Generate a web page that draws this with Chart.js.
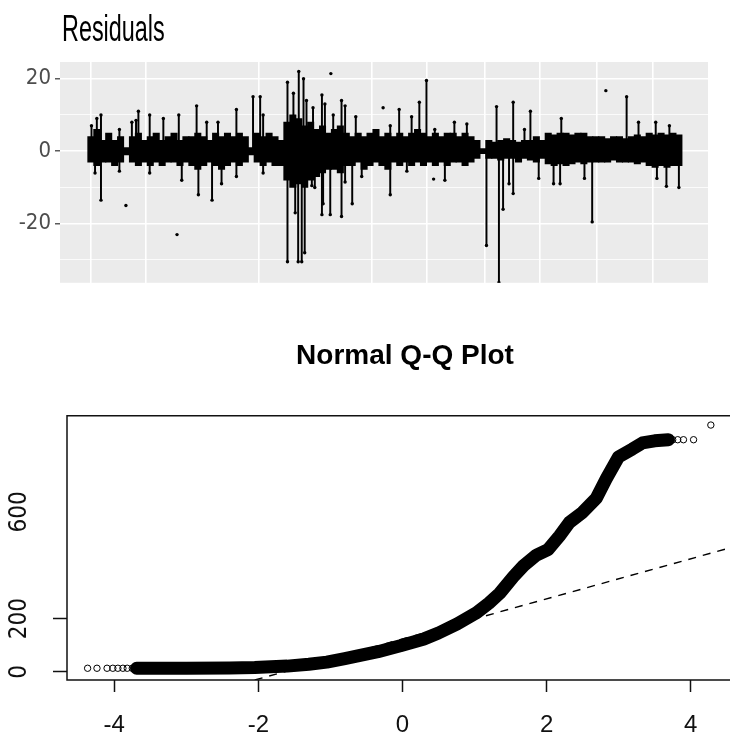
<!DOCTYPE html>
<html lang="en">
<head>
<meta charset="UTF-8">
<title>Residuals and Normal Q-Q Plot</title>
<script src="https://cdn.jsdelivr.net/npm/chart.js"></script>
<style>
  body { margin: 0; background: #fff; width: 733px; height: 738px; position: relative; overflow: hidden; }
  #resChart { position: absolute; left: 0; top: 0; }
  #qqChart { position: absolute; left: 0; top: 300px; }
  .title { position: absolute; white-space: nowrap; color: #000; }
  #resTitle { left: 62px; top: 11px; font: 36px/36px "Liberation Sans", Arial, sans-serif; transform: scaleX(0.65); transform-origin: left top; }
  #qqTitle { left: 405px; top: 341px; font: bold 28px/28px "Liberation Sans", Arial, sans-serif; transform: translateX(-50%); }
</style>
</head>
<body>
<canvas id="resChart" width="733" height="300"></canvas>
<canvas id="qqChart" width="733" height="438"></canvas>
<div class="title" id="resTitle">Residuals</div>
<div class="title" id="qqTitle">Normal Q-Q Plot</div>
<script>
// ---- residuals (top panel) ----
// min / max of the residuals in bins of 10 observations
const binWidth = 10;
const bandHi = [4, 6, 3, 5, 3, 4, 1, 4, 5, 3, 4, 5, 3, 4, 5, 3, 4, 4, 5, 4,
  3, 5, 4, 5, 4, 5, 4, 1, 5, 4, 5, 4, 3, 8, 10, 9, 7, 8, 6, 7,
  5, 6, 7, 5, 4, 5, 4, 5, 6, 4, 5, 4, 5, 4, 5, 6, 5, 4, 5, 4,
  5, 5, 4, 5, 4, 3, 0.7, 3, 2.5, 3, 3.5, 3, 2.5, 3, 3, 4, 3, 5, 4.5, 5,
  5, 4.5, 5, 5, 4, 4, 4, 3.5, 4, 4, 3.5, 4, 4.5, 4, 5, 4.5, 5, 4.5, 5, 4.5];
const bandLo = [-3, -4, -3, -3, -4, -3, -1, -3, -4, -3, -4, -3, -4, -3, -3, -4, -3, -4, -5, -4,
  -3, -4, -5, -4, -3, -4, -3, -1, -3, -4, -3, -4, -4, -8, -10, -9, -10, -8, -7, -6,
  -5, -5, -6, -4, -4, -3, -5, -4, -3, -4, -5, -3, -4, -3, -4, -3, -4, -3, -4, -3,
  -4, -3, -3, -4, -3, -2, -0.7, -2, -2, -2.5, -2, -2, -3, -2, -2.5, -3, -2, -3.5, -4, -3.5,
  -4, -3.5, -3, -3.5, -3, -3, -3, -3, -2.5, -3, -3, -3, -3.5, -3, -4, -4.5, -4, -4.5, -4, -4];
// single large residuals (observation, value)
const spikeT = [6, 15, 22, 22, 12, 53, 53, 74, 81, 85, 104, 104, 127, 153, 158, 183, 186, 200, 209, 219,
  225, 250, 250, 278, 290, 295, 295, 336, 336, 346, 349, 354, 355, 360, 363, 365, 368, 377, 379, 382,
  394, 394, 396, 399, 408, 413, 427, 427, 433, 433, 445, 451, 461, 509, 509, 524, 537, 545, 558, 570,
  584, 601, 617, 638, 671, 688, 692, 699, 709, 716, 716, 735, 745, 759, 784, 795, 797, 836, 849, 907,
  927, 956, 958, 974, 979, 995];
const spikeV = [7, 9, 10, -13.5, -6, 6, -5.5, 8, 8.5, 11, 10, -6, 9, 10, -8, 12.5, -12, 8, -13.5, 8,
  -9, 11.5, -7, 15, 15, 10, -6, 19, -30.5, 16, -17, -30.5, 22, -30.5, 20, -28, 14, -9.5, 12, -10,
  15.5, -17.5, -14.5, 13, -17.5, 10, 14, -18, 12.5, -8.5, -14.5, 9.5, -7, 7, -12, 11.5, -5.5, 9.5, 13.5, 19.5,
  6, -8, 8, 7.5, -26, 12.3, -36.2, -16, -9, 13.5, -11.7, 6, 11, -7.5, -9, -9, 9, -7.5, -19.5, 15,
  8, 8, -7.5, -9.7, 7, -10];
// isolated points
const dotT = [64, 150, 409, 497, 582, 872];
const dotV = [-15, -23, 21.4, 12, -7.7, 16.7];
const resGridX = [5, 98, 288, 478, 571, 668, 761, 857, 951];
const resYTicks = [-30, -20, -10, 0, 10, 20];
const resYLabels = [-20, 0, 20];

// ---- normal Q-Q plot (bottom panel) ----
// dense part of the curve
const qqX = [-3.69, -3.0, -2.4, -2.05, -1.9, -1.6, -1.3, -1.05, -0.8, -0.62, -0.34, -0.03, 0.3, 0.5, 0.76, 1.03,
  1.2, 1.35, 1.54, 1.68, 1.86, 2.02, 2.18, 2.32, 2.5, 2.69, 2.83, 3.0, 3.19, 3.33, 3.5, 3.69];
const qqY = [14, 14, 15, 17, 19, 22, 29, 37, 50, 60, 76, 98, 124, 146, 180, 222,
  258, 295, 357, 398, 438, 458, 510, 561, 598, 651, 725, 806, 835, 858, 866, 870];
// sparse points in the tails
const tailX = [-4.37, -4.24, -4.10, -4.02, -3.95, -3.88, -3.82, -3.75, 3.75, 3.82, 3.9, 4.04, 4.28];
const tailY = [14, 14, 14, 14, 14, 14, 14, 14, 870, 870, 870, 870, 925];
// reference line (qqline)
const qqLineX = [-2.05, 4.6];
const qqLineY = [-30, 469];
const qqXTicks = [-4, -2, 0, 2, 4];
const qqYTicks = [0, 200, 600];

const narrow = "'Liberation Sans Narrow', 'DejaVu Sans Condensed', 'Liberation Sans', sans-serif";

const panelBg = {
  id: 'panelBg',
  beforeDraw(chart) {
    const a = chart.chartArea, c = chart.ctx;
    c.save();
    c.fillStyle = '#EBEBEB';
    c.fillRect(a.left, a.top, a.right - a.left, a.bottom - a.top);
    c.restore();
  }
};

const isMajor = v => resYLabels.includes(v);

new Chart(document.getElementById('resChart'), {
  type: 'bar',
  data: {
    datasets: [
      {
        data: bandHi.map((h, i) => ({ x: binWidth * i + binWidth / 2, y: [bandLo[i], h] })),
        backgroundColor: '#000',
        barThickness: 6.4,
        grouped: false
      },
      {
        data: spikeT.map((t, i) => ({ x: t, y: [0, spikeV[i]] })),
        backgroundColor: '#000',
        barThickness: 1.3,
        grouped: false
      },
      {
        type: 'scatter',
        data: spikeT.map((t, i) => ({ x: t, y: spikeV[i] }))
          .concat(dotT.map((t, i) => ({ x: t, y: dotV[i] }))),
        pointRadius: 1.7,
        pointBackgroundColor: '#000',
        pointBorderWidth: 0
      }
    ]
  },
  options: {
    responsive: false,
    animation: false,
    layout: { padding: { top: 62, right: 25, bottom: 8, left: 0 } },
    plugins: { legend: { display: false }, tooltip: { enabled: false } },
    scales: {
      x: {
        type: 'linear',
        min: -47,
        max: 1044,
        offset: false,
        afterBuildTicks: s => { s.ticks = resGridX.map(v => ({ value: v })); },
        afterFit: s => { s.height = 0; },
        border: { display: false },
        grid: { color: '#fff', lineWidth: 1.6, drawTicks: false, offset: false },
        ticks: { display: false }
      },
      y: {
        min: -36.3,
        max: 24.6,
        afterBuildTicks: s => { s.ticks = resYTicks.map(v => ({ value: v })); },
        afterFit: s => { s.width = 60; },
        border: { display: false },
        grid: {
          color: '#fff',
          lineWidth: c => (c.tick && isMajor(c.tick.value)) ? 1.6 : 0.8,
          tickLength: 5,
          tickWidth: 1.2,
          tickColor: c => (c.tick && isMajor(c.tick.value)) ? '#333' : 'rgba(0,0,0,0)'
        },
        ticks: {
          color: '#4D4D4D',
          font: { family: narrow, size: 22 },
          padding: 4,
          autoSkip: false,
          callback: v => isMajor(v) ? String(v) : ''
        }
      }
    }
  },
  plugins: [panelBg]
});

const qqBox = {
  id: 'qqBox',
  afterDraw(chart) {
    const a = chart.chartArea, c = chart.ctx;
    c.save();
    c.strokeStyle = '#111';
    c.lineWidth = 1.5;
    c.beginPath();
    c.moveTo(a.right + 2, a.top);
    c.lineTo(a.left, a.top);
    c.lineTo(a.left, a.bottom);
    c.lineTo(a.right + 2, a.bottom);
    c.stroke();
    c.restore();
  }
};

new Chart(document.getElementById('qqChart'), {
  type: 'scatter',
  data: {
    datasets: [
      {
        data: qqLineX.map((x, i) => ({ x: x, y: qqLineY[i] })),
        showLine: true,
        borderColor: '#000',
        borderWidth: 1.4,
        borderDash: [8, 7],
        pointRadius: 0
      },
      {
        data: qqX.map((x, i) => ({ x: x, y: qqY[i] })),
        showLine: true,
        borderColor: '#000',
        borderWidth: 13,
        borderCapStyle: 'round',
        borderJoinStyle: 'round',
        pointRadius: 0
      },
      {
        data: tailX.map((x, i) => ({ x: x, y: tailY[i] })),
        pointRadius: 3.2,
        pointBorderWidth: 1,
        pointBorderColor: '#000',
        pointBackgroundColor: 'rgba(0,0,0,0)'
      }
    ]
  },
  options: {
    responsive: false,
    animation: false,
    layout: { padding: { top: 115.7, right: 0, bottom: 0, left: 0 } },
    plugins: { legend: { display: false }, tooltip: { enabled: false } },
    scales: {
      x: {
        type: 'linear',
        min: -4.656,
        max: 4.518,
        afterBuildTicks: s => { s.ticks = qqXTicks.map(v => ({ value: v })); },
        afterFit: s => { s.height = 58; },
        border: { display: false },
        grid: { drawOnChartArea: false, tickLength: 12, tickWidth: 1.5, tickColor: '#111' },
        ticks: {
          color: '#111',
          font: { family: "'Liberation Sans', Arial, sans-serif", size: 24 },
          padding: 19,
          maxRotation: 0,
          autoSkip: false,
          callback: v => String(v)
        }
      },
      y: {
        min: -30,
        max: 960,
        afterBuildTicks: s => { s.ticks = qqYTicks.map(v => ({ value: v })); },
        afterFit: s => { s.width = 67; },
        border: { display: false },
        grid: {
          drawOnChartArea: false,
          tickLength: 14,
          tickWidth: 1.5,
          tickColor: c => (c.tick && c.tick.value === 600) ? 'rgba(0,0,0,0)' : '#111'
        },
        ticks: {
          color: '#111',
          font: { family: narrow, size: 24 },
          minRotation: 90,
          maxRotation: 90,
          crossAlign: 'center',
          padding: 13,
          autoSkip: false,
          callback: v => String(v)
        }
      }
    }
  },
  plugins: [qqBox]
});
</script>
</body>
</html>
